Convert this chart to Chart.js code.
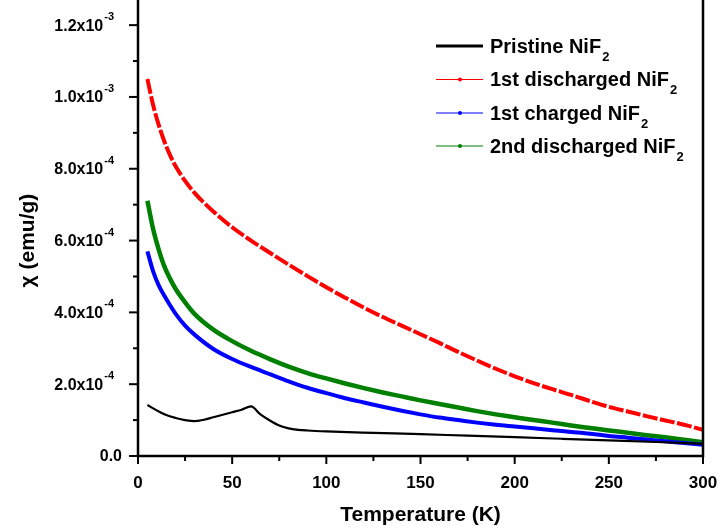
<!DOCTYPE html>
<html><head><meta charset="utf-8">
<script src="https://cdn.jsdelivr.net/npm/chart.js@4.4.1/dist/chart.umd.min.js"></script>
<style>html,body{margin:0;padding:0;background:#fff}#wrap{width:725px;height:531px}</style>
</head><body><div id="wrap"><canvas id="c" width="725" height="531"></canvas></div>
<script>
// ---- data (chi in emu/g, T in K) ----
const tempsPristine = [5,10,15,20,25,30,35,40,45,50,55,60,65,70,75,80,85,90,100,125,150,175,200,225,250,275,300];
const pristineNiF2 = [1.42e-4,1.27e-4,1.14e-4,1.06e-4,1.00e-4,0.97e-4,1.01e-4,1.08e-4,1.15e-4,1.22e-4,1.29e-4,1.38e-4,1.16e-4,0.99e-4,0.85e-4,0.77e-4,0.73e-4,0.71e-4,0.685e-4,0.645e-4,0.61e-4,0.565e-4,0.525e-4,0.48e-4,0.435e-4,0.39e-4,0.34e-4];

const tempsCycled = [5,8,11,14,17,20,25,30,40,50,60,70,80,90,100,110,120,130,140,150,160,170,180,190,200,210,220,230,240,250,260,270,280,290,300];
const firstDischarged = [1.050e-3,0.978e-3,0.922e-3,0.876e-3,0.838e-3,0.807e-3,0.766e-3,0.733e-3,0.681e-3,0.637e-3,0.600e-3,0.566e-3,0.533e-3,0.501e-3,0.470e-3,0.441e-3,0.413e-3,0.387e-3,0.363e-3,0.339e-3,0.315e-3,0.290e-3,0.266e-3,0.243e-3,0.222e-3,0.203e-3,0.186e-3,0.170e-3,0.153e-3,0.137e-3,0.124e-3,0.111e-3,0.099e-3,0.087e-3,0.073e-3];
const firstCharged = [0.570e-3,0.515e-3,0.475e-3,0.446e-3,0.420e-3,0.396e-3,0.363e-3,0.338e-3,0.298e-3,0.270e-3,0.248e-3,0.228e-3,0.208e-3,0.190e-3,0.175e-3,0.161e-3,0.149e-3,0.137e-3,0.126e-3,0.116e-3,0.107e-3,0.100e-3,0.093e-3,0.087e-3,0.082e-3,0.077e-3,0.072e-3,0.067e-3,0.062e-3,0.056e-3,0.051e-3,0.046e-3,0.041e-3,0.036e-3,0.031e-3];
const secondDischarged = [0.711e-3,0.633e-3,0.575e-3,0.528e-3,0.494e-3,0.465e-3,0.428e-3,0.396e-3,0.352e-3,0.320e-3,0.293e-3,0.270e-3,0.249e-3,0.231e-3,0.216e-3,0.202e-3,0.189e-3,0.177e-3,0.166e-3,0.155e-3,0.145e-3,0.135e-3,0.125e-3,0.116e-3,0.108e-3,0.100e-3,0.093e-3,0.085e-3,0.078e-3,0.071e-3,0.065e-3,0.058e-3,0.052e-3,0.045e-3,0.038e-3];

const seriesNames = ['Pristine NiF', '1st discharged NiF', '1st charged NiF', '2nd discharged NiF'];
const seriesSubscript = '2';
const xTickValues = [0,50,100,150,200,250,300];
const xTickLabels = ['0','50','100','150','200','250','300'];
const yTickValues = [0,2e-4,4e-4,6e-4,8e-4,1.0e-3,1.2e-3];
const yTickMantissa = ['0.0','2.0x10','4.0x10','6.0x10','8.0x10','1.0x10','1.2x10'];
const yTickExponent = ['','-4','-4','-4','-4','-3','-3'];
const xTitle = 'Temperature (K)';
const yTitle = '\u03C7 (emu/g)';

const colors = ['#000000','#ff0000','#0000ff','#008000'];

function pts(xs, ys){ return xs.map((t,i)=>({x:t,y:ys[i]})); }

const FONT = '"Liberation Sans", Arial, sans-serif';

const decorPlugin = {
  id: 'decor',
  afterDatasetsDraw(chart){
    const ctx = chart.ctx, xs = chart.scales.x, ys = chart.scales.y, a = chart.chartArea;
    ctx.save();
    // axis lines: left, bottom, right (top of frame is cropped off)
    ctx.strokeStyle = '#000'; ctx.lineWidth = 2.5;
    ctx.beginPath();
    ctx.moveTo(a.left, a.top); ctx.lineTo(a.left, a.bottom); ctx.lineTo(a.right, a.bottom); ctx.lineTo(a.right, a.top);
    ctx.stroke();
    // ticks (major + minor)
    ctx.lineWidth = 2;
    for (let t = 0; t <= 300; t += 25) {
      const px = xs.getPixelForValue(t);
      const len = (t % 50 === 0) ? 8 : 5;
      ctx.beginPath(); ctx.moveTo(px, a.bottom); ctx.lineTo(px, a.bottom + len); ctx.stroke();
    }
    for (let i = 0; i <= 12; i++) {
      const py = ys.getPixelForValue(i * 1e-4);
      const len = (i % 2 === 0) ? 9 : 5;
      ctx.beginPath(); ctx.moveTo(a.left - len, py); ctx.lineTo(a.left, py); ctx.stroke();
    }
    ctx.fillStyle = '#000';
    // x tick labels
    ctx.font = 'bold 17px ' + FONT;
    ctx.textAlign = 'center'; ctx.textBaseline = 'middle';
    xTickValues.forEach((v,i)=>{
      ctx.fillText(xTickLabels[i], xs.getPixelForValue(v), a.bottom + 27);
    });
    // y tick labels with superscripts
    yTickValues.forEach((v,i)=>{
      const py = ys.getPixelForValue(v);
      const exp = yTickExponent[i];
      ctx.font = 'bold 11px ' + FONT;
      const ew = exp ? ctx.measureText(exp).width : 0;
      const right = exp ? a.left - 24 : a.left - 15;
      ctx.textAlign = 'right'; ctx.textBaseline = 'middle';
      if (exp) { ctx.fillText(exp, right, py - 8); }
      ctx.font = 'bold 16px ' + FONT;
      ctx.fillText(yTickMantissa[i], right - ew - 1, py + 1);
    });
    // axis titles
    ctx.font = 'bold 21px ' + FONT;
    ctx.textAlign = 'center'; ctx.textBaseline = 'middle';
    ctx.fillText(xTitle, (a.left + a.right) / 2, 515);
    ctx.save();
    ctx.translate(28, (ys.getPixelForValue(0) + ys.getPixelForValue(1.2e-3)) / 2);
    ctx.rotate(-Math.PI / 2);
    ctx.fillText(yTitle, 0, 0);
    ctx.restore();
    // legend
    const rowY = [46, 79.5, 113, 146];
    seriesNames.forEach((name,i)=>{
      const y = rowY[i];
      ctx.strokeStyle = colors[i];
      ctx.lineWidth = i === 0 ? 3 : 1;
      ctx.beginPath(); ctx.moveTo(436, y); ctx.lineTo(483, y); ctx.stroke();
      ctx.fillStyle = colors[i];
      ctx.beginPath(); ctx.arc(460, y, i === 0 ? 1 : 2, 0, Math.PI*2); ctx.fill();
      ctx.fillStyle = '#000';
      ctx.font = 'bold 20px ' + FONT;
      ctx.textAlign = 'left'; ctx.textBaseline = 'middle';
      ctx.fillText(name, 490, y + 1);
      const w = ctx.measureText(name).width;
      ctx.font = 'bold 13px ' + FONT;
      ctx.fillText(seriesSubscript, 490 + w + 1, y + 11);
    });
    ctx.restore();
  }
};

new Chart(document.getElementById('c'), {
  type: 'line',
  data: {
    datasets: [
      { label: seriesNames[0] + seriesSubscript, data: pts(tempsPristine, pristineNiF2), borderColor: colors[0], borderWidth: 2.2, pointRadius: 0, cubicInterpolationMode: 'monotone', fill: false },
      { label: seriesNames[1] + seriesSubscript, data: pts(tempsCycled, firstDischarged), borderColor: colors[1], borderWidth: 4, borderDash: [15, 2.5], pointRadius: 0, cubicInterpolationMode: 'monotone', fill: false },
      { label: seriesNames[2] + seriesSubscript, data: pts(tempsCycled, firstCharged), borderColor: colors[2], borderWidth: 4, pointRadius: 0, cubicInterpolationMode: 'monotone', fill: false },
      { label: seriesNames[3] + seriesSubscript, data: pts(tempsCycled, secondDischarged), borderColor: colors[3], borderWidth: 4.5, pointRadius: 0, cubicInterpolationMode: 'monotone', fill: false }
    ]
  },
  options: {
    responsive: false,
    animation: false,
    layout: { padding: { left: 138, right: 22, top: 0, bottom: 75 } },
    plugins: { legend: { display: false }, tooltip: { enabled: false } },
    scales: {
      x: { type: 'linear', min: 0, max: 300, display: false },
      y: { type: 'linear', min: 0, max: 1.27e-3, display: false }
    }
  },
  plugins: [decorPlugin]
});
</script>
</body></html>
